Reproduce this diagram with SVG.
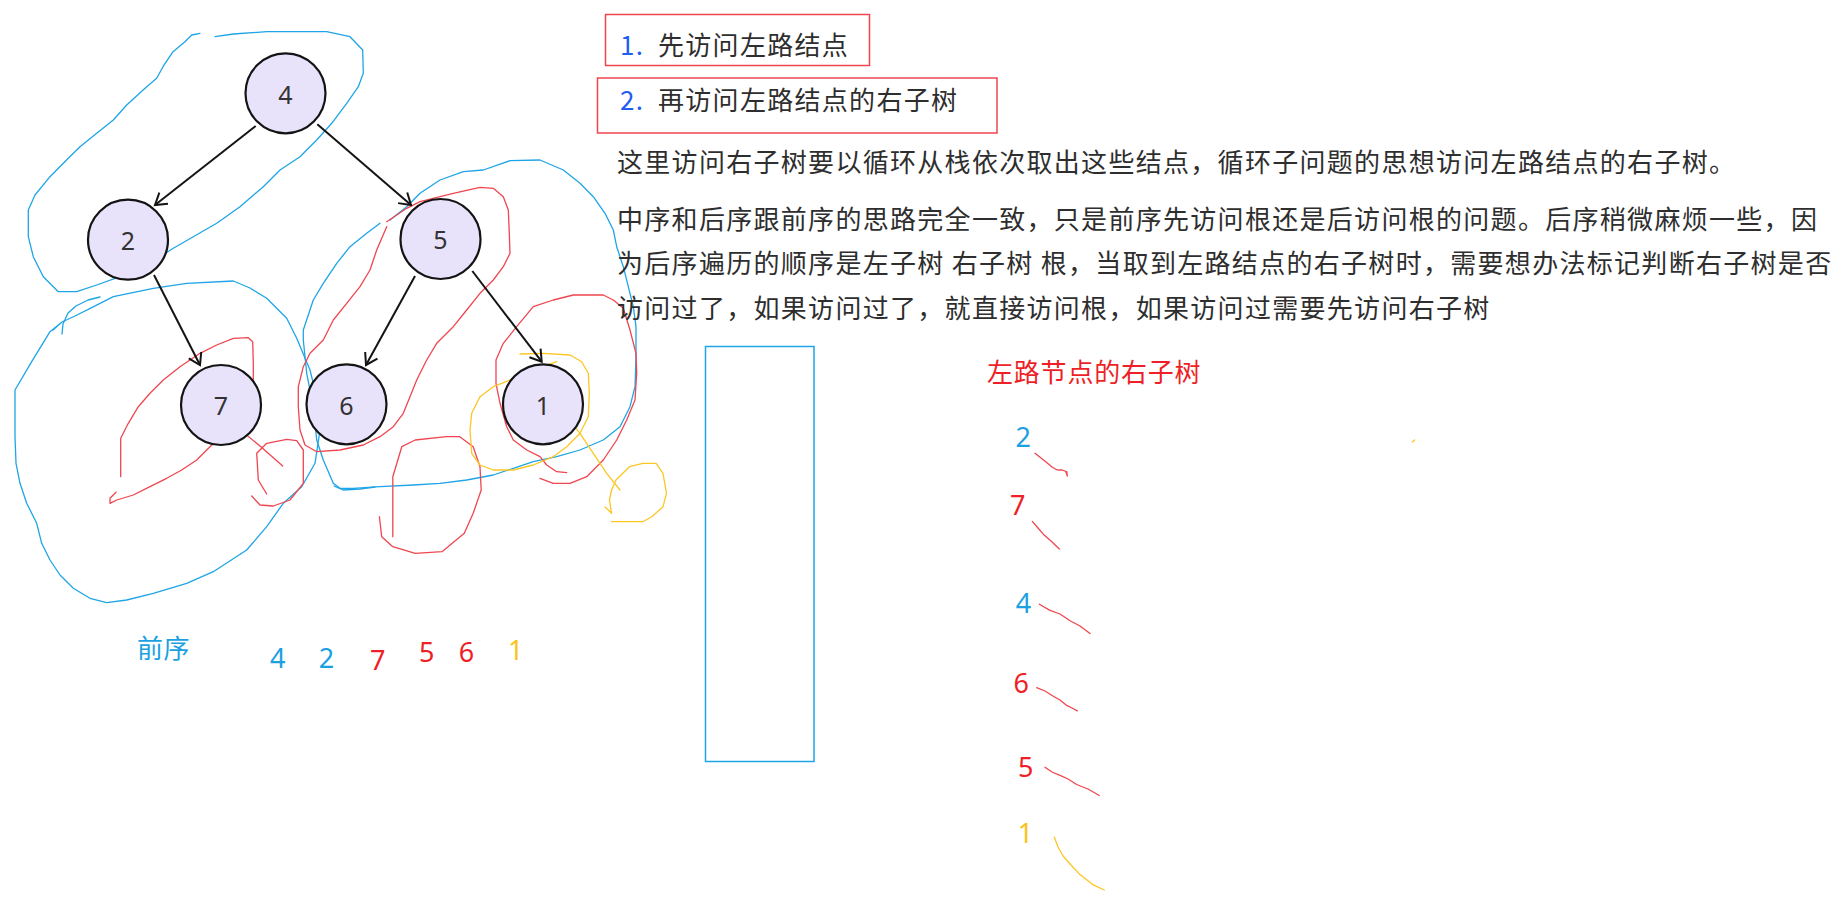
<svg xmlns="http://www.w3.org/2000/svg" width="1846" height="918" viewBox="0 0 1846 918">
<style>
  .node circle { fill: #e8e2fb; stroke: #141414; stroke-width: 2.2; }
  .node text { font-family: "Noto Sans", "DejaVu Sans", sans-serif; font-size: 25px; fill: #333; text-anchor: middle; }
  .edge { stroke: #141414; stroke-width: 2; fill: none; }
  .ink { fill: none; stroke-width: 1.3; stroke-linejoin: round; stroke-linecap: round; }
  .blue { stroke: #1ea5e6; }
  .red { stroke: #ef4650; }
  .yel { stroke: #fcc624; }
  .cjk { font-family: "Noto Sans CJK SC", "Noto Sans", sans-serif; font-size: 26px; letter-spacing: 1.3px; fill: #2e2e2e; }
  .num { font-family: "Noto Sans", "DejaVu Sans", sans-serif; font-size: 27px; text-anchor: middle; }
  .cb { fill: #1ba1e2; }
  .cr { fill: #ee1f26; }
  .cy { fill: #fbc21a; }
  .box { fill: none; stroke: #f0454f; stroke-width: 1.5; }
</style>
<defs>
  <marker id="arr" markerUnits="userSpaceOnUse" markerWidth="30" markerHeight="30" viewBox="-15 -15 30 30" refX="0" refY="0" orient="auto">
    <path d="M -11 -7 L 0 0 L -11 7" fill="none" stroke="#141414" stroke-width="2" stroke-linejoin="miter"/>
  </marker>
</defs>
<rect width="1846" height="918" fill="#ffffff"/>

<!-- freehand annotations -->
<g id="annotations">
  <!-- blue loop around 4 and 2 -->
  <polyline class="ink blue" points="200,33.3 191.7,35 185,41.7 173,51.7 163,66.7 156.7,78.3 146.7,86.7 126.7,105 113.3,120 96.7,133.3 80,146.7 68.3,158.3 50,176.7 35,195 28.3,210 28.3,236.7 33.3,256.7 43.3,276.7 58.3,291.7 76.7,291.7 96.7,285 120,276.7 146.7,265 173.3,248.3 193.3,236.7 216.7,223.3 240,206.7 263.3,186.7 280,170 300,156.7 316.7,140 331.7,123.3 346.7,103.3 358.3,86.7 363.3,73.3 362.7,50 350,36.7 326.7,31.7 266.7,31.7 233.3,34 215,36.7"/>
  <!-- blue loop around 7 -->
  <polyline class="ink blue" points="100,297 88,300 76,306 68,313 63,324 62,334"/>
  <polyline class="ink blue" points="53,330 62,322 75,316 91.7,307.7 113.3,296.7 153.3,288.3 186.7,283.3 233.3,281 250,288 266.7,298.3 286.7,318.3 296.7,338.3 310,370 318.3,403.3 320,430 315,463.3 301.7,486.7 283.3,503.3 266.7,526.7 246.7,550 213.3,571.7 186.7,583.3 153.3,593.3 126.7,600 106.7,602.7 90,598.3 73.3,588.3 60,575 50,560 41.7,543.3 36.7,523.3 26.7,503.3 20,483.3 16,463.3 15,436.7 15,390 31.7,361.7 50,331.7 62,322"/>
  <!-- blue loop around 5,6,1 -->
  <polyline class="ink blue" points="390,220 406.7,206.7 420,193.3 440,180 463.3,171.7 483.3,170 510,160.7 540,160 563.3,170 580,183.3 593.3,196.7 605,213.3 613.3,230 616.7,246.7 623.3,266.7 628.3,286.7 633.3,306.7 636,326.7 636,356.7 635,386.7 630,406.7 620,426.7 603.3,440 580,450 556.7,456.7 533.3,461.7 513.3,468.3 493.3,475 466.7,480 440,483.3 413.3,485 380,486.7 353.3,488.3 340,488.3 333.3,483.3 323.3,460 316.7,440 313.3,406.7 306.7,373.3 303.3,340 303.3,330 313.3,300 323.3,283.3 336.7,263.3 350,246.7 366.7,233.3 380,223.3"/>
  <polyline class="ink blue" points="334,486 343,490 360,489 375,487"/>
  <!-- red loop 5-6 -->
  <polyline class="ink red" points="386.7,221.7 406.7,208.3 420,201.7 453.3,193.3 480,187.3 493.3,188.3 503.3,196.7 508.3,210 509.3,233.3 510,253.3 503.3,266.7 493.3,280 480,293.3 466.7,310 453.3,326.7 436.7,343.3 426.7,360 416.7,380 410,396.7 403.3,413.3 393.3,426.7 380,436.7 363.3,445 340,450 316.7,451.7 305,445 300,430 298.3,406.7 298.3,386.7 303.3,366.7 310,353.3 323.3,340 333.3,320 346.7,303.3 360,286.7 370,270 376.7,250 386.7,226.7"/>
  <!-- red loop around 1 -->
  <polyline class="ink red" points="540,478.3 553.3,483.3 570,483.3 586.7,476.7 603.3,460 616.7,440 626.7,420 635,400 636.7,373.3 636,353.3 630,330 623.3,308.3 613.3,300 603.3,295 573.3,295 553.3,300 533.3,306.7 516.7,326.7 503.3,343.3 496,360 496,383.3 500,403.3 506.7,426.7 513.3,440 526.7,450 540,456.7 546.7,465 556.7,471.7 566.7,472.7"/>
  <!-- red loop around 7 -->
  <polyline class="ink red" points="120.7,476.7 120.7,438.3 128.3,423.3 138.3,406.7 150,393.3 163.3,380 180,366.7 200,353.3 216.7,345 233.3,338.3 248.3,337.7 252.7,341.7 253.3,363.3 253.3,390 248.3,403.3 240,416.7 230,426.7 220,436.7 210,446.7 196.7,460 181.7,470 166.7,478.3 150,486.7 133.3,495 116.7,500 110,503.3 110,498.3 116,492.3"/>
  <polyline class="ink red" points="238.3,428.3 260,446 282.7,466"/>
  <polyline class="ink red" points="266.7,494 258.3,480 256.7,453.3 266.7,443.3 286.7,439.3 296.7,440.7 303.3,450 303.3,483.3 290,500 273.3,506 260,505 251.7,496"/>
  <!-- red loop below -->
  <polyline class="ink red" points="392.8,536.7 392.8,476.7 401.8,446.7 415.2,440 446.4,436.7 459.8,436.7 473.2,446.7 480,466.7 481.2,490 473.2,513.3 464.3,533.3 442,551.7 415.2,553.3 392.8,546.7 381.7,536.7 379.4,516.7"/>
  <!-- yellow loop around 1 -->
  <polyline class="ink yel" points="520,354 543.3,353.3 570,355 581.7,361.7 588.3,373.3 589.3,393.3 588.3,416.7 580,433.3 566.7,446.7 553.3,456.7 533.3,465 513.3,470 493.3,470 480,465 471.7,453.3 470,430 471.7,413.3 480,396.7 493.3,386.7 510,380 526.7,373.3 543.3,366.7 556.7,361.7"/>
  <polyline class="ink yel" points="570,421.7 580,433.3 593.3,453.3 606.7,473.3 620,490"/>
  <polyline class="ink yel" points="605,507 611.6,513.3 609.4,500 611.6,490 616,480 629.4,466.7 642.8,463.3 656.2,463.3 663,473.3 666.5,493.3 663,506.7 651.8,516.7 642.8,521.7 611.6,521.7"/>
  <!-- right column squiggles -->
  <polyline class="ink red" points="1035,453.3 1041,458 1046.7,462.5 1052,467 1056.7,469.8 1062,470 1066.7,471.7 1067.3,476.1 1066,472"/>
  <polyline class="ink red" points="1032.3,521.4 1038,528 1043.3,534.2 1051,541 1059.3,549"/>
  <polyline class="ink red" points="1039.3,604.2 1050,610.4 1060,614 1070,620.7 1080,626 1090,633.6"/>
  <polyline class="ink red" points="1036.7,687.7 1045,691 1053.3,696.2 1060,700 1066.7,705.4 1072,708 1077.3,710.9"/>
  <polyline class="ink red" points="1045,767.2 1052,772 1060,775.3 1068,779 1076.7,784.5 1088,789 1099.3,795.5"/>
  <polyline class="ink yel" points="1054.3,837.1 1058,847 1063.3,856.2 1071,865 1080,874.6 1093.3,884.9 1104.3,890"/>
  <polyline class="ink yel" points="1412.5,442 1414.5,440"/>
</g>

<!-- connectors -->
<g id="connectors">
  <line class="edge" x1="255.7" y1="126" x2="155" y2="205" marker-end="url(#arr)"/>
  <line class="edge" x1="317.3" y1="124.3" x2="411" y2="205" marker-end="url(#arr)"/>
  <line class="edge" x1="154" y1="275" x2="200" y2="365" marker-end="url(#arr)"/>
  <line class="edge" x1="415" y1="276" x2="366" y2="365" marker-end="url(#arr)"/>
  <line class="edge" x1="472.3" y1="271" x2="541.7" y2="361.7" marker-end="url(#arr)"/>
</g>

<!-- nodes -->
<g id="node-4" class="node"><circle cx="285.5" cy="93.3" r="40"/><text x="285.5" y="103.5">4</text></g>
<g id="node-2" class="node"><circle cx="128" cy="239.7" r="40"/><text x="128" y="249.5">2</text></g>
<g id="node-5" class="node"><circle cx="440.5" cy="239" r="40"/><text x="440.5" y="249">5</text></g>
<g id="node-7" class="node"><circle cx="221" cy="405" r="40"/><text x="221" y="415">7</text></g>
<g id="node-6" class="node"><circle cx="346.5" cy="404.3" r="40"/><text x="346.5" y="414.5">6</text></g>
<g id="node-1" class="node"><circle cx="543" cy="404.3" r="40"/><text x="543" y="414.5">1</text></g>

<!-- steps -->
<g id="step-1">
  <rect class="box" x="605.5" y="14.5" width="264" height="51"/>
  <text class="cjk" x="620" y="55" style="fill:#1f5ef0">1.</text>
  <text class="cjk" x="658" y="55">先访问左路结点</text>
</g>
<g id="step-2">
  <rect class="box" x="597.5" y="78" width="399.5" height="55"/>
  <text class="cjk" x="620" y="110" style="fill:#1f5ef0">2.</text>
  <text class="cjk" x="658" y="110">再访问左路结点的右子树</text>
</g>

<!-- explanation -->
<g id="explanation" class="cjk">
  <text x="617" y="171.5">这里访问右子树要以循环从栈依次取出这些结点，循环子问题的思想访问左路结点的右子树。</text>
  <text x="617" y="229">中序和后序跟前序的思路完全一致，只是前序先访问根还是后访问根的问题。后序稍微麻烦一些，因</text>
  <text x="617" y="273">为后序遍历的顺序是左子树 右子树 根，当取到左路结点的右子树时，需要想办法标记判断右子树是否</text>
  <text x="617" y="318">访问过了，如果访问过了，就直接访问根，如果访问过需要先访问右子树</text>
</g>

<!-- stack -->
<g id="stack">
  <rect x="705.5" y="346.5" width="108.5" height="415" fill="none" stroke="#1ea5e6" stroke-width="1.5"/>
</g>

<!-- right column -->
<g id="right-subtrees">
  <text class="cjk" x="987" y="381.5" style="fill:#ee1f26;letter-spacing:0.8px">左路节点的右子树</text>
  <text class="num cb" x="1023.3" y="447">2</text>
  <text class="num cr" x="1017.8" y="515">7</text>
  <text class="num cb" x="1023.6" y="613">4</text>
  <text class="num cr" x="1021.3" y="693">6</text>
  <text class="num cr" x="1025.8" y="777">5</text>
  <text class="num cy" x="1025.5" y="843">1</text>
</g>

<!-- preorder -->
<g id="preorder">
  <text class="cjk" x="137" y="657.5" style="fill:#1ba1e2;letter-spacing:0.5px">前序</text>
  <text class="num cb" x="277.8" y="668">4</text>
  <text class="num cb" x="326.5" y="668">2</text>
  <text class="num cr" x="377.8" y="670">7</text>
  <text class="num cr" x="426.8" y="662">5</text>
  <text class="num cr" x="466.5" y="662">6</text>
  <text class="num cy" x="515.7" y="660">1</text>
</g>
</svg>
